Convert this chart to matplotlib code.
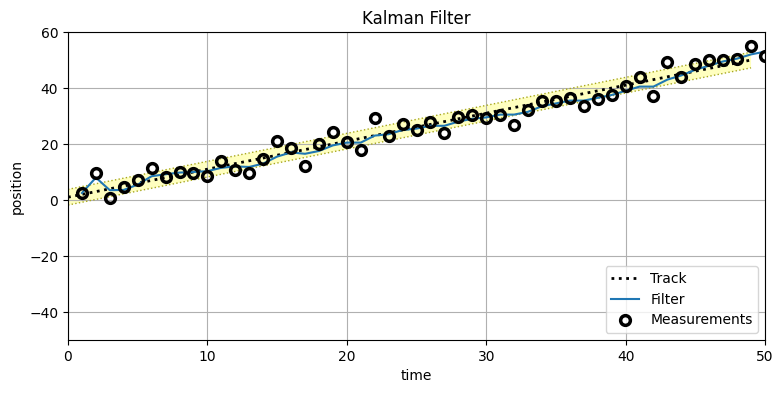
import numpy as np
import matplotlib.pyplot as plt

# posicion real (track) desde t=0
track = np.arange(50) + 1.0
banda = 2.8

# mediciones, t=1..50
zs = [2.5, 9.6, 0.7, 4.6, 7.1, 11.4, 8.2, 10.0, 9.6, 8.6,
      13.9, 10.7, 9.6, 14.6, 21.0, 18.6, 12.1, 20.0, 24.3, 20.7,
      17.9, 29.3, 22.9, 27.1, 25.0, 27.9, 23.9, 29.6, 30.4, 29.3,
      30.4, 26.8, 32.1, 35.4, 35.4, 36.4, 33.6, 36.0, 37.5, 40.7,
      43.9, 37.1, 49.3, 43.9, 48.6, 50.0, 50.0, 50.4, 55.0, 51.4]

# salida del filtro, t=1..50
xs_filtro = [2.5, 8.0, 3.5, 3.6, 5.5, 8.5, 9.2, 9.8, 10.0, 10.3,
             11.5, 12.0, 11.8, 13.0, 15.5, 17.0, 16.5, 17.5, 19.5, 20.5,
             20.5, 23.0, 23.5, 25.0, 25.5, 26.5, 26.5, 28.0, 29.0, 29.5,
             30.5, 30.5, 31.5, 33.5, 34.5, 35.5, 35.5, 36.5, 37.5, 39.0,
             40.5, 40.5, 43.0, 44.5, 46.5, 48.0, 49.5, 50.5, 52.0, 53.0]

t_track = np.arange(len(track))
t_meas = np.arange(1, len(zs) + 1)

fig, ax = plt.subplots(figsize=(7.84, 3.93), dpi=100)

# banda de incertidumbre alrededor del track
ax.fill_between(t_track, track - banda, track + banda, facecolor='#ffff00', alpha=0.25)
ax.plot(t_track, track - banda, ls=':', color='#a8a820', lw=1)
ax.plot(t_track, track + banda, ls=':', color='#a8a820', lw=1)

ax.plot(t_track, track, ls=':', color='k', lw=2, label='Track')
ax.plot(t_meas, xs_filtro, color='C0', lw=1.5, label='Filter')
ax.plot(t_meas, zs, ls='none', marker='o', ms=7, mfc='none', mec='k', mew=2.5,
        label='Measurements')

ax.set_xlim(0, 50)
ax.set_ylim(-50, 60)
ax.set_title('Kalman Filter')
ax.set_xlabel('time')
ax.set_ylabel('position')
ax.grid(True)
ax.legend(loc='lower right')

fig.subplots_adjust(left=68/784, right=765/784, top=1-32/393, bottom=1-340/393)
fig.savefig('out.png', dpi=100)
